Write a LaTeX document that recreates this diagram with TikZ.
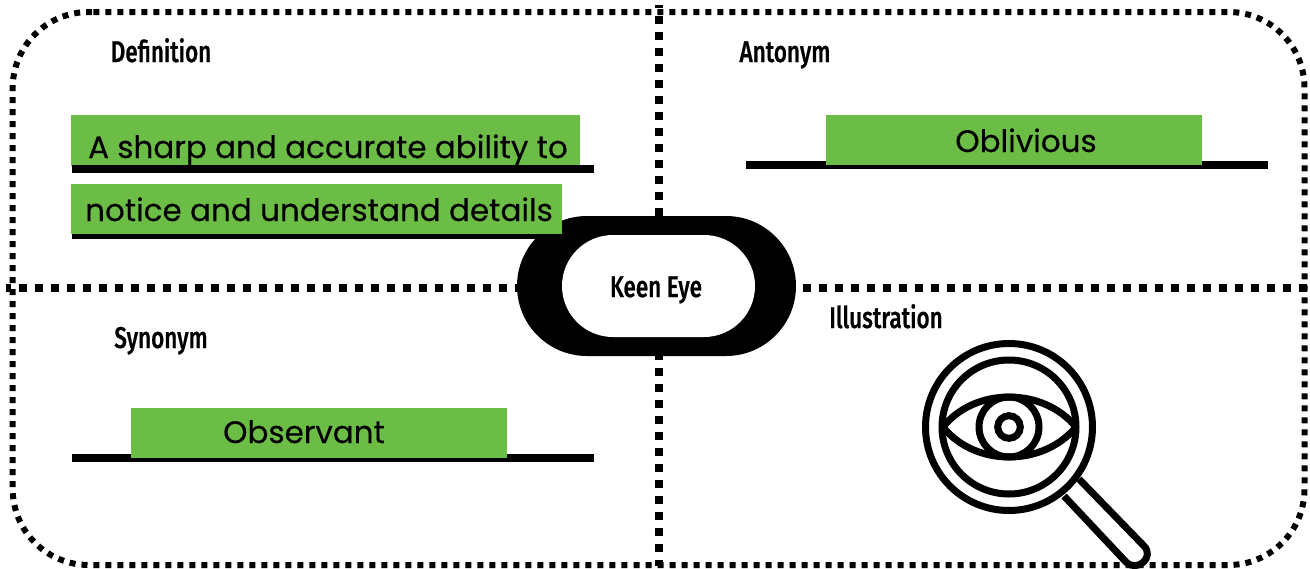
\documentclass[tikz,border=0pt]{standalone}
\usepackage{fontspec}
\setmainfont[FakeBold=0.25]{Poppins}
\newfontfamily\labfont[FakeStretch=0.75,FakeBold=0.6]{Fira Sans Medium}
\definecolor{leaf}{HTML}{6CBD45}
\tikzset{
  x=1pt,y=-1pt,
  border/.style={line width=6pt,dash pattern=on 6pt off 6pt},
  crossv/.style={line width=8pt,dash pattern=on 8pt off 8pt,dash phase=5pt},
  crossh/.style={line width=8pt,dash pattern=on 8pt off 8pt,dash phase=2.7pt},
  rule/.style={fill=black,draw=none},
  body/.style={font=\fontsize{31}{36}\selectfont,text=black,inner sep=0pt,anchor=base},
  head/.style={font=\labfont\fontsize{30}{34}\selectfont,text=black,inner sep=0pt,anchor=base},
  icon/.style={line width=7pt,draw=black}
}
\begin{document}
\begin{tikzpicture}
\useasboundingbox (0,0) rectangle (1310,568);
\fill[white] (0,0) rectangle (1310,568);
\draw[border] (93.3,12) -- (1228.5,12) .. controls (1270.5,12) and (1304.5,46) .. (1304.5,88) -- (1304.5,489) .. controls (1304.5,531) and (1270.5,565) .. (1228.5,565) -- (88.7,565) .. controls (46.7,565) and (12.7,531) .. (12.7,489) -- (12.7,88) .. controls (12.7,46) and (46.7,12) .. (88.7,12) -- (94,12);
\coordinate (vt) at (659,5); \coordinate (vb) at (659,566);
\coordinate (hl) at (6,288); \coordinate (hr) at (1310,288);
\draw[crossv] (vt) -- (vb);
\draw[crossh] (hl) -- (hr);
% rules
\fill[rule] (72,234) rectangle (560,239);
\fill[rule] (746,161) rectangle (1268,169);
\fill[rule] (72,454) rectangle (594,462);
% centre pill
\fill[black,rounded corners=70pt] (517,216) rectangle (796,356);
\fill[white,rounded corners=51pt] (562,235) rectangle (755,337);
\node[head] (keen) at (656,297) {Keen Eye};
% green boxes
\fill[leaf] (71,115) rectangle (580,166);
\fill[rule] (72,165) rectangle (594,173);
\fill[leaf] (71,184) rectangle (562,234);
\fill[leaf] (826,115) rectangle (1202,165);
\fill[leaf] (131,408) rectangle (507,458);
\node[body] (def1) at (328,158) {A sharp and accurate ability to};
\node[body] (def2) at (319,221) {notice and understand details};
\node[body] (anto) at (1026,152) {Oblivious};
\node[body] (syno) at (304,443) {Observant};
\node[head] (hdef) at (161,62) {Definition};
\node[head] (hant) at (785,62) {Antonym};
\node[head] (hsyn) at (161,348) {Synonym};
\node[head] (hill) at (886,328) {Illustration};
% magnifier
\draw[icon] (1009,427) circle[radius=83.5];
\draw[icon] (1009,427) circle[radius=67];
\draw[icon] (943,427) .. controls (975,387) and (1043,387) .. (1076,427);
\draw[icon] (943,427) .. controls (975,467) and (1043,467) .. (1076,427);
\draw[icon] (1009,427) circle[radius=30];
\draw[icon] (1009,427) circle[radius=11.3];
\draw[icon,line join=round] (1079,479) -- (1144,546) .. controls (1155,557) and (1137,573) .. (1126,562) -- (1064,496);
\end{tikzpicture}
\end{document}
